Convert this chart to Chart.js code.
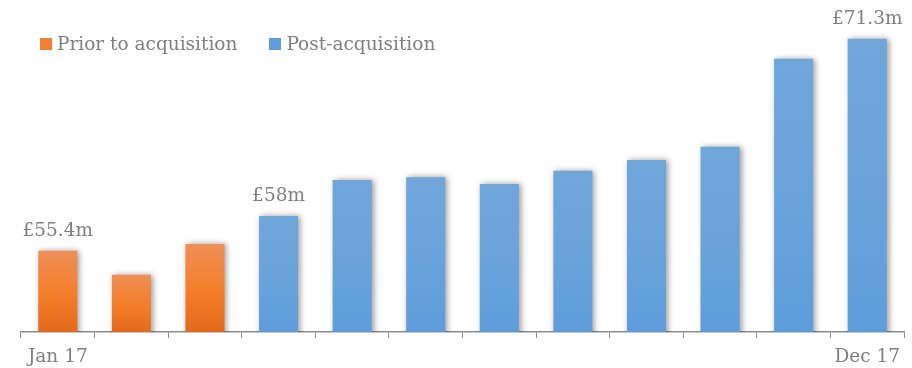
<!DOCTYPE html>
<html>
<head>
<meta charset="utf-8">
<script src="https://cdn.jsdelivr.net/npm/chart.js@4.4.1/dist/chart.umd.min.js"></script>
<style>
  body { margin: 0; background: #fff; }
  #wrap { position: relative; width: 912px; height: 368px; }
  #legend { position: absolute; left: 40px; top: 33px; display: flex; font: 18.5px "DejaVu Serif", serif; color: #7f7f7f; }
  #legend .item { display: flex; align-items: center; margin-right: 32px; }
  #legend .box { width: 12px; height: 12px; margin-right: 5px; }
</style>
</head>
<body>
<div id="wrap">
  <canvas id="graph"></canvas>
  <div id="legend"></div>
</div>
<script>
/// data ///
const months = ['Jan 17', 'Feb 17', 'Mar 17', 'Apr 17', 'May 17', 'Jun 17',
                'Jul 17', 'Aug 17', 'Sep 17', 'Oct 17', 'Nov 17', 'Dec 17']
const priorSales = [55.4, 53.6, 55.9]
const postSales = [58, 60.7, 60.9, 60.4, 61.4, 62.2, 63.2, 69.8, 71.3]
const labelled = [0, 3, 11]   // months that get a £ value above the bar

const textGrey = '#7f7f7f'
const font = "'DejaVu Serif', serif"

// pad each series out to the full year
const priorData = months.map((m, i) => i < priorSales.length ? priorSales[i] : null)
const postData = months.map((m, i) => i >= priorSales.length ? postSales[i - priorSales.length] : null)
const allData = priorData.map((v, i) => v != null ? v : postData[i])

/// vertical gradient per bar, from the bar top down to the axis ///
function barFill(top, mid, bottom) {
  return function (c) {
    const chart = c.chart
    if (!chart.chartArea || c.raw == null || !chart.scales.y) return mid
    const y0 = chart.scales.y.getPixelForValue(c.raw)
    const y1 = chart.scales.y.getPixelForValue(chart.scales.y.min)
    if (!isFinite(y0) || !isFinite(y1) || y1 <= y0) return mid
    const g = chart.ctx.createLinearGradient(0, y0, 0, y1)
    g.addColorStop(0, top)
    g.addColorStop(0.5, mid)
    g.addColorStop(1, bottom)
    return g
  }
}

/// soft grey shadow behind the bars ///
const barShadow = {
  id: 'barShadow',
  beforeDatasetsDraw(chart) {
    const ctx = chart.ctx
    ctx.save()
    ctx.shadowColor = 'rgba(0,0,0,0.4)'
    ctx.shadowBlur = 6
    ctx.shadowOffsetX = 2
    ctx.shadowOffsetY = 0
  },
  afterDatasetsDraw(chart) {
    chart.ctx.restore()
  }
}

/// £ labels over the chosen bars ///
const valueLabels = {
  id: 'valueLabels',
  afterDraw(chart) {
    const ctx = chart.ctx
    ctx.save()
    ctx.font = '18.5px ' + font
    ctx.fillStyle = textGrey
    ctx.textAlign = 'center'
    ctx.textBaseline = 'alphabetic'
    labelled.forEach(i => {
      const x = chart.scales.x.getPixelForValue(i)
      const y = chart.scales.y.getPixelForValue(allData[i])
      ctx.fillText('£' + allData[i] + 'm', x, y - 15)
    })
    ctx.restore()
  }
}

const ctx = document.getElementById('graph').getContext('2d')
const myChart = new Chart(ctx, {
  type: 'bar',
  data: {
    labels: months,
    datasets: [{
      label: 'Prior to acquisition',
      data: priorData,
      swatch: '#f27f33',
      backgroundColor: barFill('#ef8f58', '#f47f2c', '#e46a1c')
    }, {
      label: 'Post-acquisition',
      data: postData,
      swatch: '#5f9ddb',
      backgroundColor: barFill('#70a6da', '#6aa3db', '#5e9ddb')
    }]
  },
  options: {
    responsive: true,
    maintainAspectRatio: false,
    animation: false,
    layout: { padding: { left: 21, right: 8, top: 12, bottom: 0 } },
    datasets: {
      bar: { grouped: false, categoryPercentage: 1, barPercentage: 0.53, borderWidth: 0 }
    },
    plugins: {
      legend: { display: false },
      tooltip: { enabled: false }
    },
    scales: {
      x: {
        afterFit: function (scale) { scale.height = 36 },
        grid: { display: true, offset: true, drawOnChartArea: false, tickLength: 6, color: '#8c8c8c', lineWidth: 1 },
        border: { display: true, color: '#8c8c8c', width: 1.5 },
        ticks: {
          autoSkip: false,
          maxRotation: 0,
          padding: 8,
          color: textGrey,
          font: { family: font, size: 18.5 },
          callback: function (val, i) { return (i === 0 || i === months.length - 1) ? months[i] : '' }
        }
      },
      y: { display: false, min: 49.3, max: 73.3 }
    }
  },
  plugins: [barShadow, valueLabels]
})

/// legend ///
const legend = document.getElementById('legend')
myChart.data.datasets.forEach(ds => {
  const item = document.createElement('div')
  item.className = 'item'
  item.innerHTML = '<span class="box" style="background:' + ds.swatch + '"></span>' + ds.label
  legend.appendChild(item)
})
</script>
</body>
</html>
